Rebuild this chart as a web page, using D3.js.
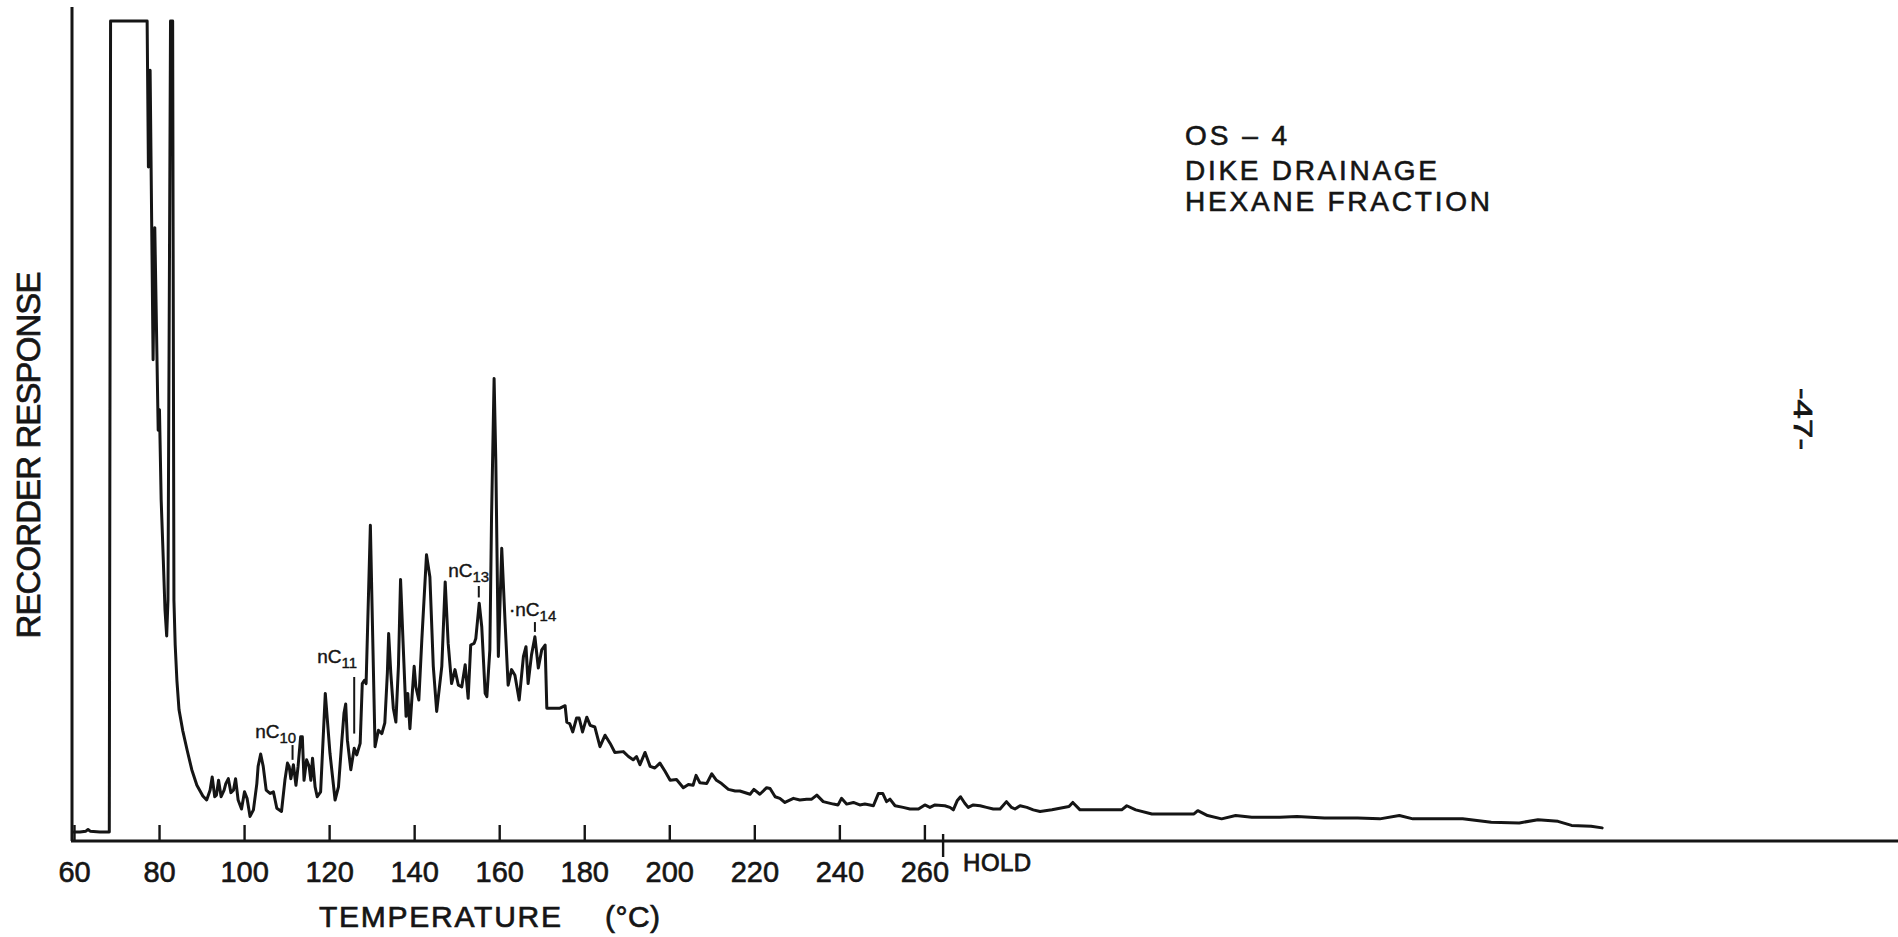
<!DOCTYPE html>
<html>
<head>
<meta charset="utf-8">
<script src="https://cdnjs.cloudflare.com/ajax/libs/d3/7.8.5/d3.min.js"></script>
<style>
  html, body { margin: 0; padding: 0; background: #fff; }
  svg { display: block; font-family: "Liberation Sans", Arial, sans-serif; }
</style>
</head>
<body>
<svg id="chart" width="1898" height="937"></svg>
<script>
// retention position on the oven programme (deg C, extended past the hold)
const temps = [
  60.0, 61.4, 62.8, 63.3, 63.8, 66.1, 68.3, 68.6, 77.2, 77.5,
  77.9, 78.6, 79.0, 79.8, 80.1, 80.5, 81.0, 81.4, 81.8, 82.1,
  82.7, 83.2, 83.5, 83.8, 84.2, 84.7, 85.6, 86.6, 87.7, 88.9,
  90.3, 91.2, 92.0, 92.5, 93.1, 93.5, 94.0, 94.6, 95.3, 95.7,
  96.3, 96.9, 97.5, 98.0, 98.6, 99.4, 100.1, 100.7, 101.4, 102.2,
  103.0, 103.3, 103.9, 104.5, 105.2, 106.1, 106.9, 107.7, 108.8, 109.6,
  110.2, 110.6, 111.0, 111.6, 112.2, 112.7, 113.3, 113.7, 114.1, 114.7,
  115.3, 115.7, 116.1, 116.7, 117.2, 118.0, 119.1, 120.2, 121.4, 122.2,
  123.0, 123.5, 123.9, 124.3, 125.1, 125.9, 126.5, 127.3, 127.8, 128.3,
  128.7, 129.7, 130.2, 130.8, 131.6, 132.4, 133.1, 133.7, 134.0, 134.5,
  135.1, 135.7, 136.3, 136.8, 137.4, 138.1, 138.5, 139.0, 139.5, 140.0,
  140.4, 141.1, 141.8, 142.9, 143.7, 144.5, 145.3, 146.5, 147.3, 148.0,
  148.8, 149.6, 150.4, 151.2, 152.0, 152.7, 153.3, 154.1, 154.5, 155.3,
  155.9, 156.7, 157.1, 157.8, 158.2, 158.8, 159.2, 159.8, 160.6, 161.4,
  162.1, 162.9, 163.7, 164.7, 165.7, 166.3, 166.8, 167.6, 168.4, 169.2,
  170.0, 170.8, 171.2, 171.9, 174.3, 175.5, 175.9, 176.6, 177.3, 178.2,
  178.8, 179.6, 180.6, 181.4, 182.5, 183.7, 184.9, 186.1, 187.2, 189.2,
  190.4, 191.5, 192.3, 193.1, 194.3, 195.5, 196.6, 197.8, 199.0, 200.2,
  201.7, 203.3, 204.5, 205.6, 206.3, 207.2, 208.8, 210.0, 211.1, 212.3,
  213.9, 215.5, 216.6, 219.0, 219.9, 221.3, 222.9, 223.7, 224.9, 226.0,
  227.2, 229.2, 230.7, 232.3, 233.5, 234.7, 236.2, 238.6, 239.7, 240.5,
  241.7, 243.3, 244.8, 246.0, 247.2, 248.0, 249.2, 250.2, 251.1, 251.9,
  253.1, 255.0, 256.6, 258.6, 260.1, 261.3, 262.5, 264.8, 266.0, 266.8,
  267.7, 268.5, 269.5, 270.3, 271.5, 273.1, 274.6, 276.2, 277.8, 279.3,
  280.5, 281.3, 282.5, 284.1, 285.6, 287.2, 290.0, 294.0, 294.9, 296.6,
  300.5, 306.4, 307.6, 309.7, 313.5, 318.8, 323.4, 324.3, 326.6, 329.9,
  333.2, 337.0, 343.6, 347.6, 354.1, 361.9, 367.1, 371.7, 374.9, 386.6,
  393.3, 399.9, 404.3, 409.0, 412.2, 416.8, 419.4
];

// recorder response, % of full scale (100 = pen off scale)
const response = [
  1.1, 1.1, 1.2, 1.4, 1.2, 1.1, 1.1, 100, 100, 82.2,
  94, 58.7, 74.8, 50.1, 52.6, 41.6, 34.3, 28.2, 25, 29.4,
  100, 100, 29.4, 23.9, 19.6, 16, 13.4, 11.1, 8.7, 6.8,
  5.5, 5.0, 6.2, 7.8, 5.4, 5.6, 7.4, 5.4, 6.2, 7.0,
  7.6, 5.9, 6.2, 7.6, 5.0, 3.9, 6.0, 5.2, 3.0, 3.8,
  7.0, 9.1, 10.6, 9.1, 6.2, 5.8, 6.0, 4.0, 3.6, 7.4,
  9.5, 9.1, 7.6, 9.3, 6.8, 9.1, 12.7, 12.7, 7.4, 9.9,
  9.1, 7.4, 10.1, 6.6, 5.4, 6.0, 18.0, 10.7, 5.0, 6.6,
  12.3, 15.6, 16.7, 12.3, 8.7, 11.3, 10.5, 11.9, 19.2, 19.6,
  19.2, 38.5, 26.1, 11.5, 13.5, 13.1, 14.4, 20.5, 25.3, 20.5,
  16.2, 14.5, 21.3, 31.9, 24.1, 15.2, 18.0, 13.7, 17.6, 21.3,
  18.8, 17.2, 24.5, 34.9, 32.2, 21.3, 15.8, 21.3, 31.6, 24.1,
  19.2, 20.9, 19.0, 18.8, 21.5, 17.4, 23.9, 24.1, 24.7, 29.0,
  26.1, 18.0, 17.6, 23.3, 39.5, 56.4, 46.5, 22.5, 35.7, 26.5,
  19.0, 20.9, 20.2, 17.2, 22.5, 23.7, 19.2, 22.7, 24.9, 21.1,
  23.3, 23.9, 16.2, 16.2, 16.2, 16.5, 14.5, 14.3, 13.3, 15.0,
  15.0, 13.3, 15.1, 14.1, 13.9, 11.5, 12.9, 11.9, 10.8, 10.9,
  10.3, 9.9, 10.3, 9.3, 10.8, 9.1, 8.9, 9.5, 8.5, 7.4,
  7.5, 6.5, 6.9, 6.8, 8.0, 7.1, 7.0, 8.2, 7.4, 7.0,
  6.3, 6.1, 6.1, 5.7, 6.3, 5.7, 6.5, 6.4, 5.4, 5.2,
  4.7, 5.2, 5.0, 5.1, 5.1, 5.6, 4.8, 4.5, 4.4, 5.2,
  4.5, 4.7, 4.4, 4.5, 4.4, 4.3, 5.8, 5.8, 4.8, 5.1,
  4.3, 4.1, 3.9, 3.9, 4.4, 4.1, 4.4, 4.3, 4.1, 3.8,
  4.9, 5.4, 4.6, 4.1, 4.4, 4.3, 4.1, 3.9, 3.9, 4.8,
  4.1, 3.9, 4.3, 4.1, 3.8, 3.6, 3.8, 4.2, 4.7, 3.8,
  3.8, 3.8, 4.3, 3.8, 3.3, 3.3, 3.3, 3.7, 3.1, 2.7,
  3.1, 2.9, 2.9, 3.0, 2.8, 2.8, 2.7, 3.1, 2.7, 2.7,
  2.3, 2.2, 2.6, 2.4, 1.9, 1.8, 1.6
];

const tickTemps = [60, 80, 100, 120, 140, 160, 180, 200, 220, 240, 260];
const holdTemp = 264.4;
const titleLines = ["OS \u2013 4", "DIKE DRAINAGE", "HEXANE FRACTION"];

// n-alkane markers: carbon number, peak position, label start, marker span (response)
const alkaneNums = ["10", "11", "13", "14"];
const alkaneTemps = [111.4, 125.9, 155.2, 168.4];
const alkaneLabelTemps = [102.6, 117.2, 148.0, 162.3];
const alkaneLabelLevels = [12.6, 21.7, 32.2, 27.4];
const alkaneMarkTop = [11.7, 20.0, 31.1, 26.7];
const alkaneMarkBottom = [9.9, 13.1, 29.7, 25.5];
const alkanePrefix = ["nC", "nC", "nC", "\u00b7nC"];

const ink = "#151515";
const svg = d3.select("#chart");

const x = d3.scaleLinear().domain([60, 260]).range([74, 924.4]);
const y = d3.scaleLinear().domain([0, 100]).range([841, 21]);

// lettering on the original is heavier than a plain regular face
function inked(sel, w) {
    return sel.attr("fill", ink).attr("stroke", ink).attr("stroke-width", w);
}

// axes frame
svg.append("line")
    .attr("x1", x(60) - 2).attr("x2", x(60) - 2)
    .attr("y1", y(0)).attr("y2", 7)
    .attr("stroke", ink).attr("stroke-width", 3);

svg.append("line")
    .attr("x1", x(60) - 3).attr("x2", 1898)
    .attr("y1", y(0)).attr("y2", y(0))
    .attr("stroke", ink).attr("stroke-width", 3);

let xAxis = svg.append("g")
    .attr("transform", "translate(0," + y(0) + ")")
    .call(d3.axisBottom(x)
        .tickValues(tickTemps)
        .tickFormat(d3.format("d"))
        .tickSizeInner(-16)
        .tickSizeOuter(0)
        .tickPadding(20));
xAxis.select(".domain").remove();
xAxis.selectAll(".tick line").attr("stroke", ink).attr("stroke-width", 2.4);
inked(xAxis.selectAll(".tick text"), 0.6)
    .style("font-family", "'Liberation Sans', Arial, sans-serif")
    .style("font-size", "29px");

// hold marker
svg.append("line")
    .attr("x1", x(holdTemp)).attr("x2", x(holdTemp))
    .attr("y1", y(0) - 7).attr("y2", y(0) + 16)
    .attr("stroke", ink).attr("stroke-width", 2.4);
inked(svg.append("text"), 0.8)
    .attr("x", x(holdTemp) + 20).attr("y", 871)
    .attr("font-size", 24)
    .attr("textLength", 68)
    .text("HOLD");

// chromatogram trace
let line = d3.line()
    .x(i => x(temps[i]))
    .y(i => y(response[i]));

svg.append("path")
    .datum(d3.range(temps.length))
    .attr("d", line)
    .attr("fill", "none")
    .attr("stroke", ink)
    .attr("stroke-width", 3)
    .attr("stroke-linejoin", "round")
    .attr("stroke-linecap", "round");

// n-alkane labels
alkaneNums.forEach(function (num, i) {
    svg.append("line")
        .attr("x1", x(alkaneTemps[i])).attr("x2", x(alkaneTemps[i]))
        .attr("y1", y(alkaneMarkTop[i])).attr("y2", y(alkaneMarkBottom[i]))
        .attr("stroke", ink).attr("stroke-width", 2);

    let t = inked(svg.append("text"), 0.4)
        .attr("x", x(alkaneLabelTemps[i]))
        .attr("y", y(alkaneLabelLevels[i]))
        .attr("font-size", 19);
    t.append("tspan").text(alkanePrefix[i]);
    t.append("tspan").attr("dy", 5).attr("font-size", 15).text(num);
});

// axis titles
inked(svg.append("text"), 0.7)
    .attr("transform", "translate(40,455) rotate(-90)")
    .attr("text-anchor", "middle")
    .attr("font-size", 33)
    .attr("textLength", 367)
    .text("RECORDER  RESPONSE");

inked(svg.append("text"), 0.7)
    .attr("x", 319).attr("y", 927)
    .attr("font-size", 30)
    .attr("textLength", 242)
    .text("TEMPERATURE");
inked(svg.append("text"), 0.7)
    .attr("x", 605).attr("y", 927)
    .attr("font-size", 30)
    .attr("textLength", 55)
    .text("(\u00b0C)");

// sample title block
const titleWidths = [102, 252, 305];
const titleBase = [145, 180, 211];
titleLines.forEach(function (s, i) {
    inked(svg.append("text"), 0.6)
        .attr("x", 1185).attr("y", titleBase[i])
        .attr("font-size", 28)
        .attr("textLength", titleWidths[i])
        .text(s);
});

// page number
inked(svg.append("text"), 0.7)
    .attr("transform", "translate(1794,419) rotate(90)")
    .attr("text-anchor", "middle")
    .attr("font-size", 26)
    .attr("textLength", 62)
    .attr("lengthAdjust", "spacingAndGlyphs")
    .text("-47-");
</script>
</body>
</html>
